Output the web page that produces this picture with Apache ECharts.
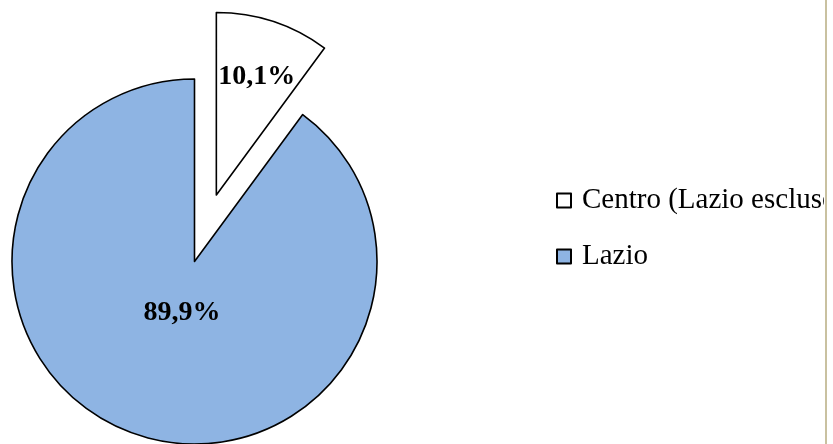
<!DOCTYPE html>
<html>
<head>
<meta charset="utf-8">
<script src="https://cdn.jsdelivr.net/npm/echarts@6/dist/echarts.min.js"></script>
<style>
  html, body { margin: 0; padding: 0; background: #ffffff; }
  #wrap { width: 833px; height: 444px; position: relative; overflow: hidden; }
  #chart { position: absolute; left: 0; top: 0; width: 824px; height: 444px; }
  #rule { position: absolute; left: 825px; top: 0; width: 2px; height: 444px; background: #C9C1A0; }
</style>
</head>
<body>
<div id="wrap"><div id="chart"></div><div id="rule"></div></div>
<script>
// Data
const categories = ['Centro (Lazio escluso)', 'Lazio'];
const values = [10.1, 89.9];
const colors = ['#FFFFFF', '#8EB4E3'];
const exploded = [true, false];

// Label fine-tuning (style only)
const labelShift = [[11, -29], [17, -38]];

const fmt = v => v.toFixed(1).replace('.', ',') + '%';

const data = categories.map((name, i) => ({
  name: name,
  value: values[i],
  selected: exploded[i],
  itemStyle: { color: colors[i], borderColor: '#000', borderWidth: 1.6 },
  select: { itemStyle: { color: colors[i], borderColor: '#000', borderWidth: 1.6 } }
}));

const chart = echarts.init(document.getElementById('chart'), null, { renderer: 'canvas' });
chart.setOption({
  animation: false,
  backgroundColor: '#ffffff',
  legend: {
    orient: 'vertical',
    left: 556,
    top: 186,
    padding: 0,
    itemWidth: 14,
    itemHeight: 14,
    itemGap: 27,
    icon: 'rect',
    selectedMode: false,
    data: categories,
    textStyle: { fontFamily: 'Liberation Serif', fontSize: 29, color: '#000', padding: [0, 0, 0, 6] }
  },
  series: [{
    type: 'pie',
    center: [194.5, 261.5],
    radius: 182.5,
    startAngle: 90,
    clockwise: true,
    selectedMode: 'single',
    selectedOffset: 70,
    avoidLabelOverlap: false,
    label: {
      show: true,
      position: 'inside',
      formatter: p => fmt(p.value),
      fontFamily: 'Liberation Serif',
      fontWeight: 'bold',
      fontSize: 28,
      color: '#000'
    },
    labelLine: { show: false },
    emphasis: { disabled: true },
    labelLayout: p => ({ dx: labelShift[p.dataIndex][0], dy: labelShift[p.dataIndex][1] }),
    data: data
  }]
});
</script>
</body>
</html>
